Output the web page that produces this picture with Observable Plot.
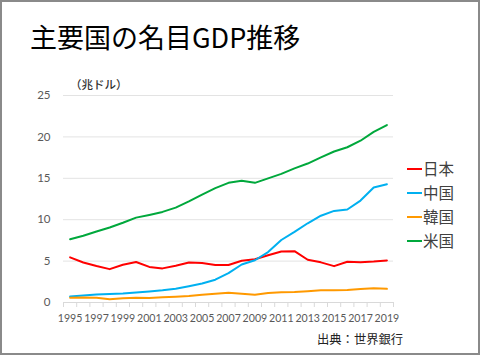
<!DOCTYPE html>
<html><head><meta charset="utf-8">
<script src="https://cdn.jsdelivr.net/npm/d3@7"></script>
<script src="https://cdn.jsdelivr.net/npm/@observablehq/plot@0.6"></script>
<style>
html,body{margin:0;padding:0;background:#fff;}
#wrap{position:relative;width:480px;height:355px;overflow:hidden;font-family:"Noto Sans CJK JP","Noto Sans",sans-serif;}
#frame{position:absolute;left:0;top:0;width:480px;height:355px;box-sizing:border-box;border:2px solid #8a8a8a;pointer-events:none;}
.abs{position:absolute;white-space:nowrap;line-height:1;}
#title{left:30px;top:23px;font-size:27px;color:#000;}
#unit{left:70px;top:79px;font-size:11.5px;color:#333;font-weight:500;}
#caption{left:317px;top:333px;font-size:12.3px;color:#222;}
.leg{position:absolute;left:407px;display:flex;align-items:center;font-size:15.5px;color:#404040;line-height:1;}
.leg span.sw{display:inline-block;width:15px;height:2px;margin-right:1px;}
</style></head>
<body>
<div id="wrap">
  <div id="chart"></div>
  <div class="abs" id="title">主要国の名目GDP推移</div>
  <div class="abs" id="unit">（兆ドル）</div>
  <div class="abs" id="caption">出典：世界銀行</div>
  <div id="legend"></div>
  <div id="frame"></div>
</div>
<script>
const years = d3.range(1995, 2020);
const countries = ["日本", "中国", "韓国", "米国"];
const colors = ["#ff0000", "#00b0f0", "#ff9900", "#00a83c"];
const japan = [5.45,4.83,4.41,4.03,4.56,4.89,4.30,4.12,4.45,4.82,4.76,4.53,4.52,5.04,5.23,5.70,6.16,6.20,5.16,4.85,4.39,4.92,4.87,4.95,5.08];
const china = [0.73,0.86,0.96,1.03,1.09,1.21,1.34,1.47,1.66,1.96,2.29,2.75,3.55,4.59,5.10,6.09,7.55,8.53,9.57,10.48,11.06,11.23,12.31,13.89,14.28];
const korea = [0.57,0.61,0.57,0.38,0.50,0.58,0.55,0.63,0.70,0.79,0.93,1.05,1.17,1.05,0.94,1.14,1.25,1.28,1.37,1.48,1.47,1.50,1.62,1.72,1.65];
const usa = [7.64,8.07,8.58,9.06,9.63,10.25,10.58,10.94,11.46,12.21,13.04,13.81,14.45,14.71,14.45,14.99,15.54,16.20,16.78,17.53,18.24,18.75,19.54,20.61,21.43];
const yTicks = [0,5,10,15,20,25];
const xLabels = d3.range(1995, 2020, 2);
const xTickMarks = d3.range(1994.5, 2020, 1);

const series = [japan, china, korea, usa];
const rows = [];
series.forEach((vals, i) => vals.forEach((v, j) => rows.push({country: countries[i], year: years[j], value: v})));

const font = "Lato, sans-serif";
const chart = Plot.plot({
  width: 480, height: 355,
  marginLeft: 63, marginRight: 87, marginTop: 95, marginBottom: 53,
  style: {fontFamily: font, background: "transparent", overflow: "visible"},
  x: {domain: [1994.5, 2019.5]},
  y: {domain: [0, 25]},
  color: {domain: countries, range: colors},
  marks: [
    Plot.gridY(yTicks, {stroke: "#e3e3e3", strokeOpacity: 1, strokeWidth: 1}),
    Plot.ruleY([0], {stroke: "#d9d9d9", strokeWidth: 1}),
    Plot.axisY(yTicks, {tickSize: 0, tickPadding: 13, fontSize: 11.5, fill: "#595959", label: null}),
    Plot.axisX(xTickMarks, {tickSize: 5, stroke: "#d9d9d9", tickFormat: () => "", label: null}),
    Plot.axisX(xLabels, {tickSize: 0, tickPadding: 12, fontSize: 10.6, fill: "#595959", tickFormat: d => String(d), label: null}),
    Plot.line(rows, {x: "year", y: "value", z: "country", stroke: "country", strokeWidth: 2, strokeLinejoin: "round"})
  ]
});
document.getElementById("chart").appendChild(chart);

const legendTops = [161, 185, 209, 233];
const leg = document.getElementById("legend");
countries.forEach((c, i) => {
  const d = document.createElement("div");
  d.className = "leg";
  d.style.top = legendTops[i] + "px";
  d.innerHTML = `<span class="sw" style="background:${colors[i]}"></span><span>${c}</span>`;
  leg.appendChild(d);
});
</script>
</body></html>
